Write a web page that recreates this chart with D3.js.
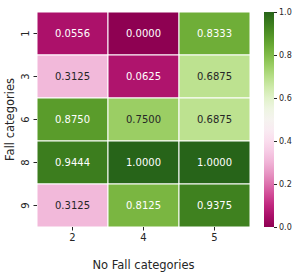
<!DOCTYPE html>
<html>
<head>
<meta charset="utf-8">
<script src="https://cdn.jsdelivr.net/npm/d3@7"></script>
<style>
  body { margin: 0; background: #fff; }
  svg { font-family: "DejaVu Sans", sans-serif; }
</style>
</head>
<body>
<svg id="chart" width="305" height="278"></svg>
<script>
// Data
const rowCategories = ["1", "3", "6", "8", "9"];
const colCategories = ["2", "4", "5"];
const values = [
  [0.0556, 0.0000, 0.8333],
  [0.3125, 0.0625, 0.6875],
  [0.8750, 0.7500, 0.6875],
  [0.9444, 1.0000, 1.0000],
  [0.3125, 0.8125, 0.9375]
];
const colorbarTicks = [0, 0.2, 0.4, 0.6, 0.8, 1.0];

const svg = d3.select("#chart");
const plotLeft = 37, plotRight = 250, plotTop = 12, plotBottom = 227;

const x = d3.scaleBand().domain(colCategories).range([plotLeft, plotRight]);
const y = d3.scaleBand().domain(rowCategories).range([plotTop, plotBottom]);
const color = d3.scaleSequential(d3.interpolatePiYG).domain([0, 1]);

const cells = [];
values.forEach((row, i) => row.forEach((v, j) => cells.push({ r: rowCategories[i], c: colCategories[j], v })));

// cells
svg.append("g").selectAll("rect")
  .data(cells)
  .join("rect")
  .attr("x", d => x(d.c))
  .attr("y", d => y(d.r))
  .attr("width", x.bandwidth())
  .attr("height", y.bandwidth())
  .attr("fill", d => color(d.v))
  .attr("stroke", "#fff")
  .attr("stroke-width", 1);

// annotations: dark text on light cells
function lum(c) {
  const rgb = d3.rgb(c);
  const f = u => { u /= 255; return u <= 0.03928 ? u / 12.92 : Math.pow((u + 0.055) / 1.055, 2.4); };
  return 0.2126 * f(rgb.r) + 0.7152 * f(rgb.g) + 0.0722 * f(rgb.b);
}
svg.append("g").selectAll("text")
  .data(cells)
  .join("text")
  .attr("x", d => x(d.c) + x.bandwidth() / 2)
  .attr("y", d => y(d.r) + y.bandwidth() / 2)
  .attr("text-anchor", "middle")
  .attr("dominant-baseline", "central")
  .attr("font-size", "10px")
  .attr("fill", d => lum(color(d.v)) > 0.408 ? "#262626" : "#fff")
  .text(d => d.v.toFixed(4));

// axes
const xAxis = svg.append("g")
  .attr("transform", `translate(0,${plotBottom})`)
  .call(d3.axisBottom(x).tickSize(3.5).tickPadding(3.5));
xAxis.select(".domain").remove();
xAxis.selectAll("text").attr("font-size", "10px").attr("fill", "#262626").attr("font-family", "DejaVu Sans");
xAxis.selectAll("line").attr("stroke", "#262626");

const yAxis = svg.append("g")
  .attr("transform", `translate(${plotLeft},0)`)
  .call(d3.axisLeft(y).tickSize(3.5).tickPadding(3.5));
yAxis.select(".domain").remove();
yAxis.selectAll("line").attr("stroke", "#262626");
yAxis.selectAll("text")
  .attr("font-size", "10px").attr("fill", "#262626").attr("font-family", "DejaVu Sans")
  .attr("text-anchor", "middle").attr("dy", null).attr("x", null)
  .attr("dominant-baseline", "auto")
  .attr("transform", "translate(-8,0) rotate(-90)");

svg.append("text")
  .attr("x", (plotLeft + plotRight) / 2)
  .attr("y", 269)
  .attr("text-anchor", "middle")
  .attr("font-size", "11.5px")
  .attr("fill", "#262626")
  .text("No Fall categories");

svg.append("text")
  .attr("transform", `translate(14,${(plotTop + plotBottom) / 2}) rotate(-90)`)
  .attr("text-anchor", "middle")
  .attr("font-size", "11.5px")
  .attr("fill", "#262626")
  .text("Fall categories");

// colorbar
const cbX = 264, cbW = 10;
const cbY = d3.scaleLinear().domain([0, 1]).range([plotBottom, plotTop]);
const defs = svg.append("defs");
const grad = defs.append("linearGradient")
  .attr("id", "cbgrad").attr("x1", 0).attr("y1", 1).attr("x2", 0).attr("y2", 0);
d3.range(0, 1.0001, 0.05).forEach(t => {
  grad.append("stop").attr("offset", t).attr("stop-color", color(t));
});
svg.append("rect")
  .attr("x", cbX).attr("y", plotTop)
  .attr("width", cbW).attr("height", plotBottom - plotTop)
  .attr("fill", "url(#cbgrad)");

const cbAxis = svg.append("g")
  .attr("transform", `translate(${cbX + cbW},0)`)
  .call(d3.axisRight(cbY).tickValues(colorbarTicks).tickFormat(d3.format(".1f")).tickSize(3).tickPadding(2));
cbAxis.select(".domain").remove();
cbAxis.selectAll("line").attr("stroke", "#262626");
cbAxis.selectAll("text").attr("font-size", "8px").attr("fill", "#262626").attr("font-family", "DejaVu Sans");
</script>
</body>
</html>
